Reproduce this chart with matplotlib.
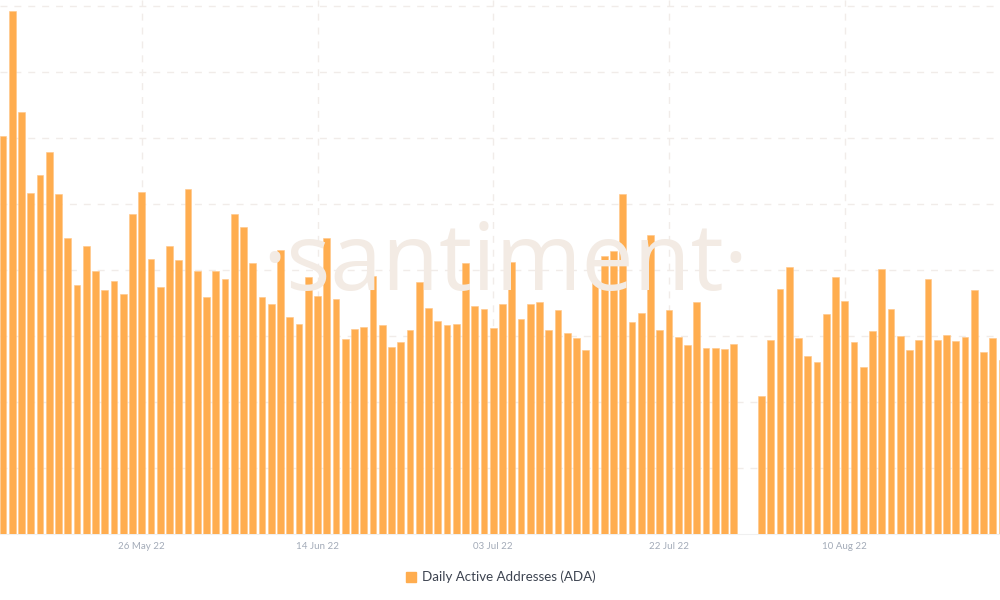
import matplotlib
matplotlib.use("Agg")
import matplotlib.pyplot as plt
import matplotlib.dates as mdates
from matplotlib.lines import Line2D
import pandas as pd
import numpy as np

# ---- data ----
all_days = pd.date_range("2022-05-11", "2022-08-27", freq="D")
missing_days = ["2022-07-30", "2022-07-31"]
dates = [d for d in all_days if d.strftime("%Y-%m-%d") not in missing_days]

active_addresses = [
    60300, 79200, 63890, 51710, 54390, 57920, 51560, 44890, 37680, 43590,
    39850, 36920, 38380, 36410, 48440, 51770, 41670, 37420, 43680, 41470,
    52270, 39890, 35950, 39890, 38590, 48440, 46470, 41020, 35910, 34890,
    42980, 32880, 31770, 38890, 36110, 44890, 35650, 29590, 31060, 31320,
    39140, 31670, 28330, 29140, 30950, 38180, 34240, 32270, 31710, 31820,
    41020, 34550, 34050, 31210, 34820, 41210, 32620, 34850, 35150, 30950,
    33890, 30450, 29740, 27880, 38140, 42080, 42880, 51470, 32080, 33530,
    45300, 30860, 33940, 29850, 28640, 35200, 28230, 28230, 27980, 28830,
    20950, 29390, 37170, 40500, 29650, 27020, 26060, 33290, 38890, 35260,
    29050, 25260, 30710, 40150, 34050, 29950, 27830, 29350, 38590, 29440,
    30150, 29240, 29800, 37020, 27530, 29650, 26410,
]

tick_labels = ["26 May 22", "14 Jun 22", "03 Jul 22", "22 Jul 22", "10 Aug 22"]
tick_dates = pd.to_datetime(["2022-05-26", "2022-06-14", "2022-07-03", "2022-07-22", "2022-08-10"])

series_name = "Daily Active Addresses (ADA)"

# ---- style ----
bar_color = "#ffad4f"
grid_color = "#f1ece9"

fig = plt.figure(figsize=(10, 6), dpi=100)
fig.patch.set_facecolor("white")
ax = fig.add_axes([0.0, 66 / 600, 1.0, 534 / 600])
ax.set_facecolor("none")

x = mdates.date2num(dates)
ax.bar(x, active_addresses, width=0.72, color=bar_color, edgecolor="#ffc587",
       linewidth=0.4, zorder=3)

x0 = mdates.date2num(pd.Timestamp("2022-05-11"))
ax.set_xlim(x0 - 0.33, x0 + 107.78)
ax.set_ylim(0, 534 / 66 * 10000)

ax.set_xticks(mdates.date2num(tick_dates))
ax.set_xticklabels(tick_labels, fontsize=7.0, color="#a3abb8", family=["Lato", "DejaVu Sans"])
ax.tick_params(axis="x", length=0, pad=6)
ax.set_yticks(np.arange(10000, 80001, 10000))
ax.tick_params(axis="y", length=0, labelleft=False)

ax.grid(True, axis="both", color=grid_color, linestyle=(0, (5, 5)), linewidth=1.0, zorder=0)
ax.set_axisbelow(True)
for s in ["top", "right", "left"]:
    ax.spines[s].set_visible(False)
ax.spines["bottom"].set_color("#f0f0f0")
ax.spines["bottom"].set_linewidth(0.8)

# watermark
wm = fig.text(0.505, (600 - 290) / 600, "·santiment·", ha="center", va="baseline",
              fontsize=80, color="#f3ebe4", family=["Open Sans", "DejaVu Sans"],
              fontweight="normal", zorder=0)
fig.canvas.draw()
bb = wm.get_window_extent()
target = 486.0
wm.set_fontsize(80 * target / bb.width)

# legend
handle = Line2D([], [], marker="s", linestyle="none", markersize=7,
                markerfacecolor=bar_color, markeredgecolor=bar_color)
fig.legend([handle], [series_name], loc="center", bbox_to_anchor=(0.5, (600 - 577) / 600),
           frameon=False, handletextpad=0.3, handlelength=1.0,
           prop={"family": ["Lato", "DejaVu Sans"], "size": 9.6},
           labelcolor="#3c4350")

fig.savefig("out.png", dpi=100, facecolor="white")
